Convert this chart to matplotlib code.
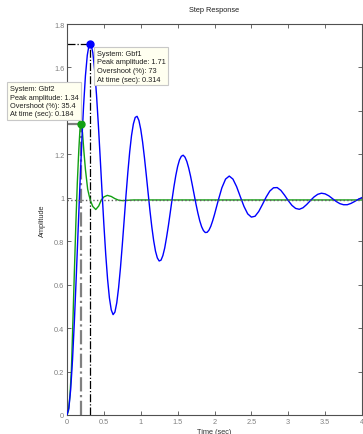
import numpy as np
import matplotlib
matplotlib.use('Agg')
import matplotlib.pyplot as plt

plt.rcParams['font.family'] = ['Liberation Sans', 'DejaVu Sans']

# Gbf1 step response: every 0.025 s up to 2 s, then every 0.05 s
t_gbf1 = np.concatenate([np.arange(81) * 0.025, 2 + np.arange(1, 41) * 0.05])
y_gbf1 = [0.000, 0.031, 0.118, 0.255, 0.431, 0.632, 0.845, 1.056, 1.254, 1.425,
          1.562, 1.656, 1.706, 1.709, 1.668, 1.587, 1.474, 1.337, 1.185, 1.028,
          0.877, 0.740, 0.626, 0.539, 0.484, 0.462, 0.474, 0.517, 0.587, 0.678,
          0.784, 0.897, 1.011, 1.117, 1.211, 1.287, 1.340, 1.370, 1.375, 1.356,
          1.315, 1.257, 1.185, 1.105, 1.022, 0.940, 0.866, 0.803, 0.754, 0.723,
          0.709, 0.713, 0.734, 0.769, 0.818, 0.872, 0.932, 0.993, 1.051, 1.102,
          1.144, 1.174, 1.191, 1.196, 1.187, 1.167, 1.137, 1.100, 1.057, 1.013,
          0.969, 0.929, 0.894, 0.867, 0.849, 0.840, 0.841, 0.851, 0.869, 0.894,
          0.923,
          0.987, 1.046, 1.086, 1.100, 1.086, 1.051, 1.005, 0.960, 0.926, 0.911,
          0.915, 0.937, 0.969, 1.003, 1.031, 1.046, 1.047, 1.034, 1.012, 0.987,
          0.965, 0.951, 0.947, 0.954, 0.969, 0.987, 1.004, 1.016, 1.021, 1.018,
          1.009, 0.996, 0.983, 0.973, 0.968, 0.968, 0.974, 0.983, 0.993, 1.001]

# Gbf2 step response
t_gbf2 = [0, 0.02, 0.04, 0.06, 0.08, 0.10, 0.12, 0.14, 0.16, 0.175, 0.184, 0.195,
          0.21, 0.23, 0.25, 0.28, 0.30, 0.32, 0.35, 0.39, 0.43, 0.465, 0.50, 0.547,
          0.60, 0.65, 0.70, 0.75, 0.80, 0.90, 1.0, 4.0]
y_gbf2 = [0, 0.02, 0.09, 0.21, 0.43, 0.66, 0.88, 1.07, 1.22, 1.31, 1.34, 1.335,
          1.30, 1.21, 1.13, 1.04, 1.01, 0.985, 0.96, 0.946, 0.962, 0.99, 1.004, 1.011,
          1.006, 0.996, 0.989, 0.987, 0.988, 0.99, 0.99, 0.99]

final_value = 0.99
peak1 = (0.314, 1.71, 73)
peak2 = (0.184, 1.34, 35.4)

xticks = [0, 0.5, 1, 1.5, 2, 2.5, 3, 3.5, 4]
yticks = [0, 0.2, 0.4, 0.6, 0.8, 1, 1.2, 1.4, 1.6, 1.8]
xticklabels = ['0', '0.5', '1', '1.5', '2', '2.5', '3', '3.5', '4']
# 1.4 sits under the Gbf2 data tip in the original
yticklabels = ['0', '0.2', '0.4', '0.6', '0.8', '1', '1.2', '', '1.6', '1.8']

blue = '#0000ff'
green = '#12a012'
fs = 5.3

fig = plt.figure(figsize=(3.63, 4.35), dpi=100)
ax = fig.add_axes([67 / 363, 19 / 435, 295 / 363, 391 / 435])

# peak markers lines
ax.plot([peak2[0], peak2[0]], [0, peak2[1]], color='#808080', ls='-.', lw=1.6, zorder=1)
ax.plot([0, peak2[0]], [peak2[1], peak2[1]], color='#808080', ls='-.', lw=1.6, zorder=1)
ax.plot([peak1[0], peak1[0]], [0, peak1[1]], color='black', ls='-.', lw=0.9, zorder=1)
ax.plot([0, peak1[0]], [peak1[1], peak1[1]], color='black', ls='-.', lw=0.9, zorder=1)

ax.plot(t_gbf1, y_gbf1, color=blue, lw=1.0, zorder=3)
ax.plot(t_gbf2, y_gbf2, color=green, lw=1.0, zorder=2)
ax.axhline(final_value, color='#606060', ls=':', lw=1.0, zorder=4)

ax.plot(peak1[0], peak1[1], 'o', color=blue, ms=5, zorder=5)
ax.plot(peak2[0], peak2[1], 'o', color=green, ms=5, zorder=5)

ax.set_xlim(0, 4)
ax.set_ylim(0, 1.8)
ax.set_xticks(xticks)
ax.set_xticklabels(xticklabels)
ax.set_yticks(yticks)
ax.set_yticklabels(yticklabels)
ax.tick_params(direction='in', length=3, width=0.6, top=True, right=True,
               labelsize=fs, colors='#505050', labelcolor='#808080', pad=2)
for s in ax.spines.values():
    s.set_color('#505050')
    s.set_linewidth(0.8)

ax.set_xlabel('Time (sec)', fontsize=fs, color='#303030', labelpad=2)
ax.set_ylabel('Amplitude', fontsize=fs, color='#303030', labelpad=6)
fig.text(214 / 363, 1 - 10 / 435, 'Step Response', fontsize=fs, color='#202020',
         ha='center', va='center')

box = dict(boxstyle='square,pad=0.35', fc='#fffff0', ec='#c8c8c8', lw=0.8)
fig.text(97 / 363, 1 - 51 / 435,
         'System: Gbf1\nPeak amplitude: %.2f\nOvershoot (%%): %g\nAt time (sec): %.3f'
         % (peak1[1], peak1[2], peak1[0]),
         fontsize=fs, color='#202020', va='top', ha='left', linespacing=1.3, bbox=box)
fig.text(10 / 363, 1 - 86 / 435,
         'System: Gbf2\nPeak amplitude: %.2f\nOvershoot (%%): %g\nAt time (sec): %.3f'
         % (peak2[1], peak2[2], peak2[0]),
         fontsize=fs, color='#202020', va='top', ha='left', linespacing=1.3, bbox=box)

fig.savefig('out.png', dpi=100)
